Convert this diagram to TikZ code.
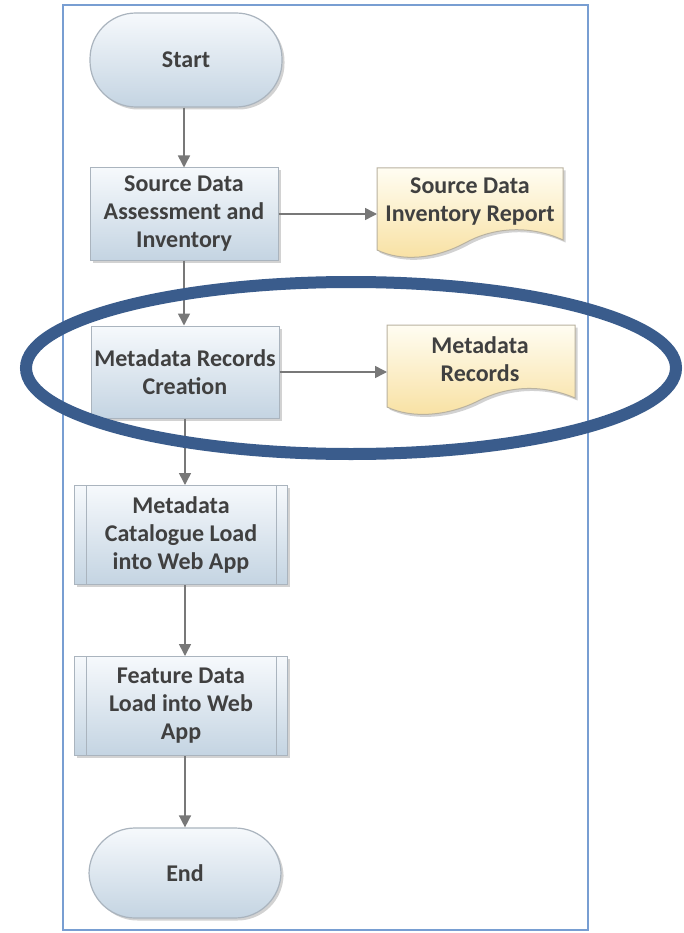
\documentclass[tikz,border=0pt]{standalone}
\usepackage{fontspec}
\setmainfont{Carlito}
\usetikzlibrary{arrows.meta,shadows}
\definecolor{framec}{RGB}{120,158,210}
\definecolor{textc}{RGB}{64,64,64}
\definecolor{boxtop}{RGB}{246,249,252}
\definecolor{boxbot}{RGB}{196,212,226}
\definecolor{boxline}{RGB}{170,180,190}
\definecolor{doctop}{RGB}{255,253,242}
\definecolor{docbot}{RGB}{248,224,160}
\definecolor{docline}{RGB}{185,178,160}
\definecolor{arrowc}{RGB}{120,120,120}
\definecolor{ellc}{RGB}{58,92,140}
\begin{document}
\begin{tikzpicture}[x=1pt,y=-1pt,
  font=\bfseries\fontsize{24}{28}\selectfont,
  txt/.style={text=textc, align=center},
  shad/.style={drop shadow={opacity=0.35, shadow xshift=2.5pt, shadow yshift=-2.5pt}},
  procbox/.style={txt, shad, draw=boxline, line width=1pt, top color=boxtop, bottom color=boxbot, minimum width=188pt, minimum height=92pt, inner sep=0pt},
  predef/.style={procbox, minimum width=213pt, minimum height=99pt},
  term/.style={txt, shad, draw=boxline, line width=1.2pt, top color=boxtop, bottom color=boxbot, rounded corners=46pt, minimum width=192pt, minimum height=94pt},
  docshape/.style={shad, draw=docline, line width=1pt, top color=doctop, bottom color=docbot},
  flow/.style={draw=arrowc, line width=1.5pt, -{Triangle[length=12pt,width=12pt]}}
]
\useasboundingbox (0,0) rectangle (684,933);
\fill[white] (0,0) rectangle (684,933);
\draw[framec, line width=1.3pt] (63,5) rectangle (588,930);

% nodes
\node[term] (start) at (186,60) {Start};
\node[procbox] (b1) at (184,214) {Source Data\\Assessment and\\Inventory};
\node[procbox] (b2) at (185,372) {Metadata Records\\Creation};
\node[predef] (b3) at (181,535) {Metadata\\Catalogue Load\\into Web App};
\node[predef] (b4) at (181,706) {Feature Data\\Load into Web\\App};
\node[term, minimum height=90pt] (end) at (185,873) {End};

\foreach \n in {b3,b4}{
  \draw[boxline, line width=1pt] ([xshift=12pt]\n.north west) -- ([xshift=12pt]\n.south west);
  \draw[boxline, line width=1pt] ([xshift=-12pt]\n.north east) -- ([xshift=-12pt]\n.south east);
}

% documents
\path[docshape] (377,168) -- (563,168) -- (563,240)
  .. controls (528,224) and (492,228) .. (465,243)
  .. controls (435,259) and (402,262) .. (377,250) -- cycle;
\node[txt] (d1) at (470,202) {Source Data\\Inventory Report};
\coordinate (d1w) at (377,0);

\path[docshape] (387,325) -- (575,325) -- (575,398)
  .. controls (540,383) and (505,387) .. (478,401)
  .. controls (448,416) and (412,419) .. (387,407) -- cycle;
\node[txt] (d2) at (480,359) {Metadata\\Records};
\coordinate (d2w) at (387,0);

% connectors
\draw[flow] (start.south -| b1.north) -- (b1.north);
\draw[flow] (b1.south) -- (b1.south |- b2.north);
\draw[flow] (b2.south) -- (b2.south |- b3.north);
\draw[flow] (b3.south -| b2.south) -- (b2.south |- b4.north);
\draw[flow] (b4.south -| b2.south) -- (b2.south |- end.north);
\draw[flow] (b1.east) -- (b1.east -| d1w);
\draw[flow] (b2.east) -- (b2.east -| d2w);

% highlight ellipse
\draw[ellc, line width=12pt] (351,368) ellipse [x radius=325pt, y radius=86pt];
\end{tikzpicture}
\end{document}
